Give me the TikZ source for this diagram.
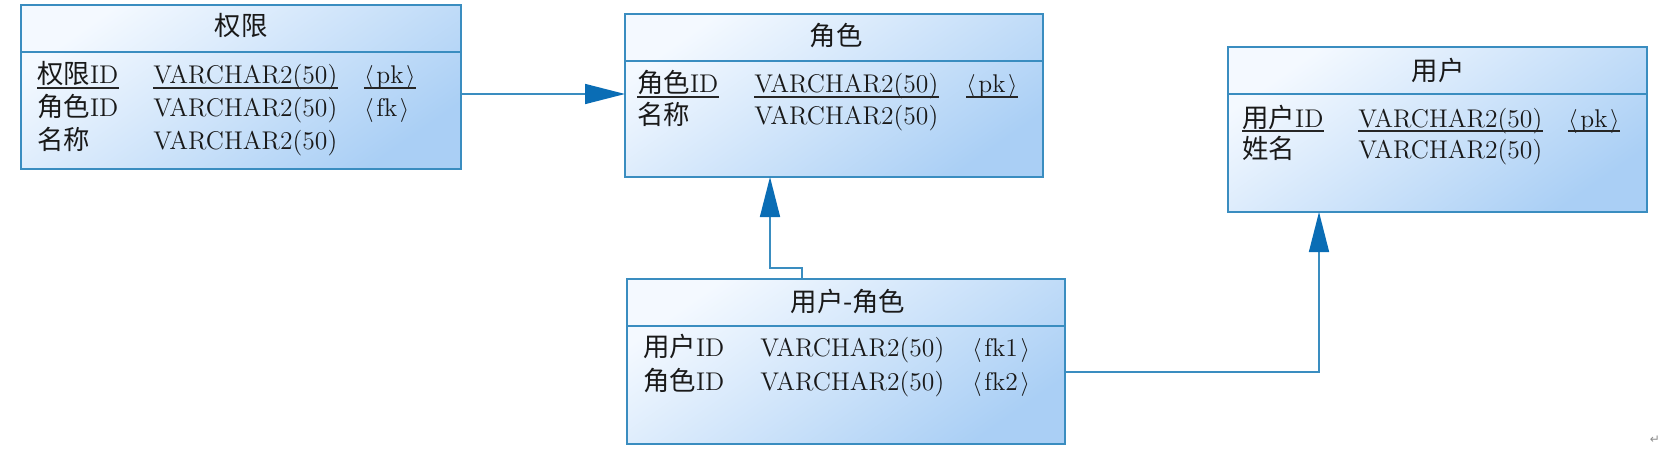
\documentclass[tikz,border=0pt]{standalone}
\usepackage{fontspec}
\newfontfamily\zhfont{Noto Sans CJK SC}
\newfontfamily\symfont{DejaVu Sans}
\usetikzlibrary{arrows.meta}
\definecolor{bd}{HTML}{3A8DC0}
\definecolor{lt}{HTML}{F4F9FF}
\definecolor{dk}{HTML}{AACFF5}
\definecolor{ah}{HTML}{0A6DB5}
\newcommand\myzh[1]{{\zhfont\fontsize{13.2}{15}\selectfont #1}}
\newcommand\myab[1]{$\langle\mkern2mu$#1$\mkern2mu\rangle$}
\begin{document}
\begin{tikzpicture}[x=0.5pt,y=-0.5pt,
 box/.style={draw=bd, line width=1pt, top color=lt, bottom color=dk, shading angle=35, inner sep=0, outer sep=0},
 div/.style={draw=bd, line width=1pt},
 ul/.style={draw=black!85, line width=0.6pt},
 conn/.style={draw=bd, line width=0.8pt, -{Triangle[length=20pt,width=10pt,fill=ah,color=ah]}},
 cell/.style={anchor=base west, inner sep=0, font=\fontsize{12.8}{14}\selectfont, text=black!90},
 ttl/.style={anchor=base, inner sep=0, font=\fontsize{12.8}{14}\selectfont, text=black!90}]
\useasboundingbox (0,0) rectangle (1676,460);
% boxes
\node[box, minimum width=220pt, minimum height=82pt] (b1) at (241,87) {};
\node[box, minimum width=209pt, minimum height=81.5pt] (b2) at (834,95.5) {};
\node[box, minimum width=209.5pt, minimum height=82.5pt] (b3) at (1437.5,129.5) {};
\node[box, minimum width=219pt, minimum height=82.5pt] (b4) at (846,361.5) {};
% dividers
\draw[div] (b1.west |- 0,52) -- (b1.east |- 0,52);
\draw[div] (b2.west |- 0,61) -- (b2.east |- 0,61);
\draw[div] (b3.west |- 0,94) -- (b3.east |- 0,94);
\draw[div] (b4.west |- 0,326) -- (b4.east |- 0,326);
% titles
\node[ttl] (t1) at (241,36) {\myzh{权限}};
\node[ttl] (t2) at (836,46) {\myzh{角色}};
\node[ttl] (t3) at (1438,81) {\myzh{用户}};
\node[ttl] (t4) at (848,311) {\myzh{用户-角色}};
% box 1 rows
\node[cell] (c11) at (37,84) {\myzh{权限}ID};
\node[cell] (c12) at (153,84) {VARCHAR2(50)};
\node[cell] (c13) at (364,84) {\myab{pk}};
\node[cell] (c21) at (37,117) {\myzh{角色}ID};
\node[cell] (c22) at (153,117) {VARCHAR2(50)};
\node[cell] (c23) at (364,117) {\myab{fk}};
\node[cell] (c31) at (37,149) {\myzh{名称}};
\node[cell] (c32) at (153,149) {VARCHAR2(50)};
% box 2 rows
\node[cell] (d11) at (637,93) {\myzh{角色}ID};
\node[cell] (d12) at (754,93) {VARCHAR2(50)};
\node[cell] (d13) at (966,93) {\myab{pk}};
\node[cell] (d21) at (637,125) {\myzh{名称}};
\node[cell] (d22) at (754,125) {VARCHAR2(50)};
% box 3 rows
\node[cell] (e11) at (1242,127) {\myzh{用户}ID};
\node[cell] (e12) at (1358,127) {VARCHAR2(50)};
\node[cell] (e13) at (1568,127) {\myab{pk}};
\node[cell] (e21) at (1242,158) {\myzh{姓名}};
\node[cell] (e22) at (1358,158) {VARCHAR2(50)};
% box 4 rows
\node[cell] (f11) at (643,356) {\myzh{用户}ID};
\node[cell] (f12) at (760,356) {VARCHAR2(50)};
\node[cell] (f13) at (972,356) {\myab{fk1}};
\node[cell] (f21) at (643,390) {\myzh{角色}ID};
\node[cell] (f22) at (760,390) {VARCHAR2(50)};
\node[cell] (f23) at (972,390) {\myab{fk2}};
% underlines of primary keys
\foreach \n in {c11,c12,c13,d11,d12,d13,e11,e12,e13}
  \draw[ul] ([yshift=-2pt]\n.base west) -- ([yshift=-2pt]\n.base east);
% connectors
\draw[conn] (b1.east |- 0,94) -- (b2.west |- 0,94);
\draw[conn] (b4.north -| 802,0) -- (802,268) -- (770,268) -- (b2.south -| 770,0);
\draw[conn] (b4.east |- 0,372) -| (b3.south -| 1319,0);
% paragraph mark
\node[inner sep=0, text=black!45, font=\symfont\fontsize{6}{7}\selectfont] (pm) at (1655,440) {↵};
\end{tikzpicture}
\end{document}
